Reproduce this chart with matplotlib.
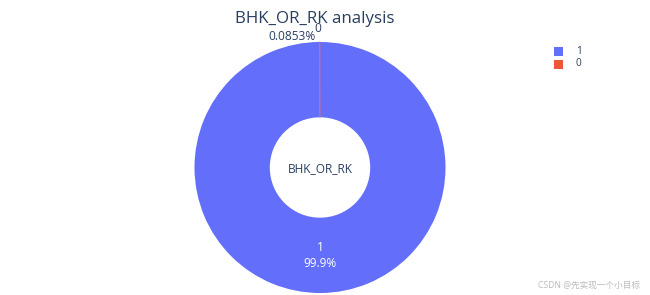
import matplotlib
matplotlib.use("Agg")
import matplotlib.pyplot as plt
import numpy as np
from matplotlib.patches import Rectangle

plt.rcParams['font.family'] = ['Open Sans', 'Noto Sans CJK SC', 'DejaVu Sans']

labels = ["1", "0"]
values = [99.9147, 0.0853]
pct_text = ["99.9%", "0.0853%"]
colors = ["#636efa", "#EF553B"]
title = "BHK_OR_RK analysis"
center_label = "BHK_OR_RK"
text_color = "#2a3f5f"

W, H = 650, 295
fig = plt.figure(figsize=(W / 100, H / 100), dpi=100)
ax = fig.add_axes([0, 0, 1, 1])

cx, cy, R = 320, 167.5, 125.5
hole = 0.4
wedges, _ = ax.pie(values, colors=colors, startangle=-90, counterclock=True,
                   radius=R, center=(cx, cy),
                   wedgeprops=dict(width=R * (1 - hole), linewidth=0),
                   frame=True)
wedges[1].set_edgecolor("#c86a9a")
wedges[1].set_linewidth(0.6)
ax.set_xlim(0, W)
ax.set_ylim(H, 0)
ax.set_aspect('equal')
ax.axis('off')

# inside label for big slice
w0 = wedges[0]
mid = np.deg2rad((w0.theta1 + w0.theta2) / 2)
rm = R * (1 + hole) / 2
tx, ty = cx + rm * np.cos(mid), cy + rm * np.sin(mid)
ax.text(tx, ty, f"{labels[0]}\n{pct_text[0]}", ha='center', va='center',
        color='white', fontsize=8.6, linespacing=1.25)

# outside label for tiny slice
w1 = wedges[1]
mid1 = np.deg2rad((w1.theta1 + w1.theta2) / 2)
ox = cx + (R + 6) * np.cos(mid1)
ax.text(ox - 2, 28, labels[1], ha='center', va='center', color=text_color, fontsize=8.6)
ax.text(ox - 4, 37, pct_text[1], ha='right', va='center', color=text_color, fontsize=8.6)

# center annotation
ax.text(cx, cy + 1, center_label, ha='center', va='center', color=text_color, fontsize=8.6)

# title
ax.text(315, 19, title, ha='center', va='center', color=text_color, fontsize=12.2)

# legend
for i, (lab, col) in enumerate(zip(labels, colors)):
    y = 51 + i * 13
    ax.add_patch(Rectangle((554, y - 4.5), 9, 9, facecolor=col, edgecolor='none'))
    ax.text(576, y, lab, ha='left', va='center', color=text_color, fontsize=7.2)

# watermark
ax.text(640, 285, "CSDN @先实现一个小目标", ha='right', va='center', color='#bbbbbb', fontsize=6.2)

fig.savefig("out.png", dpi=100, facecolor='white')
